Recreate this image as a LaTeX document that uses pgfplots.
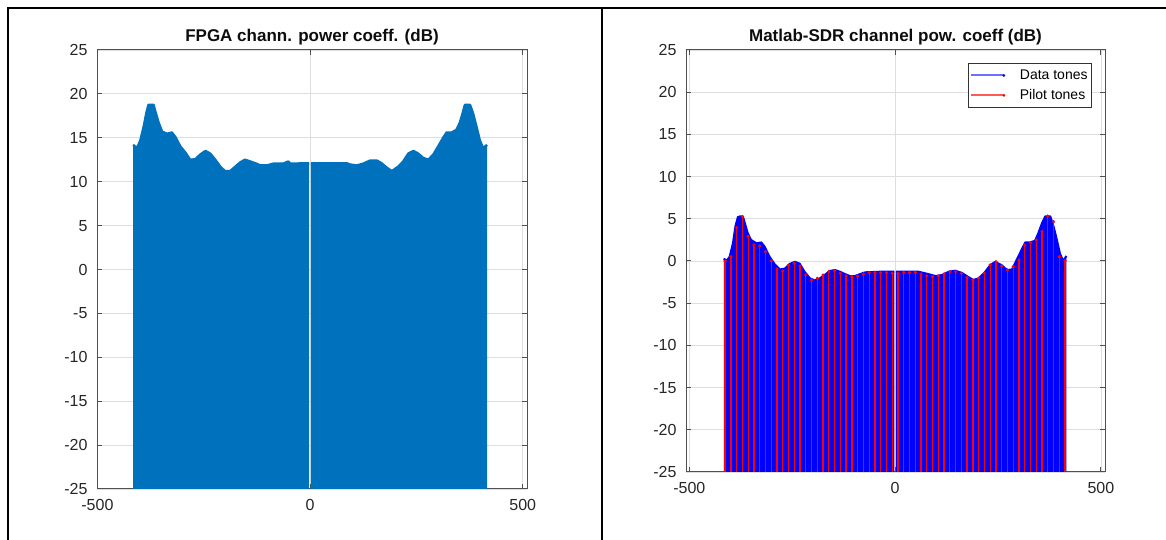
\documentclass[border=0pt]{standalone}
\usepackage{pgfplots}
\pgfplotsset{compat=1.18}
\usepackage{pgfplotstable}
\usepackage{fontspec}
\setmainfont{Liberation Sans}
\definecolor{mblue}{RGB}{0,114,189}
\definecolor{axgray}{RGB}{80,80,80}
\definecolor{lgblue}{RGB}{110,110,255}
\definecolor{lgred}{RGB}{255,90,90}

\pgfplotstableread{
x y
-416 -25
-416 14.2
-407 13.8
-399 14.7
-391 16.3
-385 17.8
-380 18.75
-368 18.75
-364 18.0
-356 16.7
-348 15.7
-336 15.45
-325 15.6
-317 15.1
-305 14.0
-293 13.3
-282 12.5
-270 12.55
-258 13.1
-246 13.5
-235 13.2
-223 12.5
-211 11.7
-200 11.2
-188 11.2
-176 11.7
-164 12.2
-153 12.5
-141 12.3
-129 12.1
-117 11.85
-102 11.85
-86 12.05
-63 12.05
-51 12.3
-47 12.05
-2 12.1
-2 -25
}\fpgaleft

\pgfplotstableread{
x y
2 -25
2 12.1
31 12.1
86 12.1
94 11.95
110 11.85
125 12.05
141 12.4
157 12.4
168 12.1
180 11.6
192 11.2
207 11.7
219 12.3
231 13.2
243 13.5
254 13.2
266 12.7
278 12.5
290 13.1
301 14.0
313 15.0
321 15.6
333 15.6
344 15.9
352 16.7
360 18.0
364 18.75
376 18.75
383 17.8
391 16.3
399 14.7
407 13.8
416 14.2
416 -25
}\fpgaright

\pgfplotstableread{
x y
-416 -25
-416 0.3
-410 0.0
-402 0.5
-394 2.1
-388 4.1
-382 5.2
-376 5.3
-370 5.3
-366 4.65
-358 3.3
-350 2.5
-337 2.1
-325 2.2
-317 1.7
-305 0.5
-293 -0.35
-280 -1.0
-268 -0.9
-256 -0.35
-244 -0.1
-232 -0.3
-220 -1.27
-207 -2.05
-195 -2.3
-183 -2.05
-171 -1.66
-159 -1.18
-146 -1.07
-134 -1.27
-122 -1.54
-110 -1.78
-98 -1.78
-85 -1.55
-73 -1.34
-37 -1.27
-2 -1.27
-2 -25
}\sdrleft

\pgfplotstableread{
x y
2 -25
2 -1.27
57 -1.27
81 -1.55
98 -1.78
114 -1.66
130 -1.27
146 -1.15
162 -1.4
178 -1.9
190 -2.25
203 -2.05
219 -1.27
231 -0.5
243 -0.1
259 -0.5
272 -1.07
284 -1.0
296 0.2
308 1.4
316 2.2
328 2.2
340 2.4
348 3.3
357 4.5
365 5.3
377 5.3
385 4.1
393 2.5
401 0.8
409 0.0
416 0.6
416 -25
}\sdrright

\pgfplotstableread{
x y
-413 0.0
-399 0.51
-385 3.95
-371 5.25
-357 2.9
-343 1.9
-329 1.78
-315 1.11
-301 0.0
-287 -0.95
-273 -1.18
-259 -0.51
-245 -0.28
-231 -0.59
-217 -1.66
-203 -2.25
-189 -2.05
-175 -1.66
-161 -1.26
-147 -1.15
-133 -1.46
-119 -1.78
-105 -1.86
-91 -1.78
-77 -1.54
-63 -1.38
-49 -1.38
-35 -1.38
-21 -1.38
-7 -1.46
7 -1.46
21 -1.38
35 -1.38
49 -1.38
63 -1.54
77 -1.78
91 -1.86
105 -1.78
119 -1.54
133 -1.26
147 -1.26
161 -1.46
175 -1.94
189 -2.25
203 -2.05
217 -1.46
231 -0.47
245 -0.08
259 -0.59
273 -1.07
287 -0.67
301 0.12
315 1.9
329 2.17
343 2.49
357 3.47
371 5.33
385 4.66
399 0.51
413 0.04
}\pilots

\pgfplotsset{
  mlab/.style={
    scale only axis,
    ymin=-25, ymax=25,
    ytick={-25,-20,-15,-10,-5,0,5,10,15,20,25},
    xtick={-500,0,500},
    grid=major,
    major grid style={black!13, line width=0.8pt},
    tick align=inside,
    major tick length=5pt,
    axis line style={axgray, line width=1pt},
    every tick/.style={axgray, line width=1pt},
    ticklabel style={font=\fontsize{16}{16}\selectfont, text=black!85},
    /pgf/number format/assume math mode=true,
    yticklabel style={xshift=-6pt},
    xticklabel style={yshift=-7pt},
    title style={font=\bfseries\fontsize{17}{17}\selectfont, text=black!95, yshift=-5pt},
  }
}

\begin{document}
\begin{tikzpicture}[x=1pt,y=1pt]
\useasboundingbox (0,0) rectangle (1166,540);
\draw[line width=2.5pt] (8,0) -- (8,532) -- (1166,532);
\draw[line width=2.5pt] (602,0) -- (602,532);

\begin{axis}[mlab,
  at={(97pt,51pt)}, anchor=south west,
  width=430pt, height=439pt,
  xmin=-501, xmax=510,
  title={FPGA chann. power coeff. (dB)}]
\addplot[fill=mblue, draw=none] table[x=x,y=y] {\fpgaleft};
\addplot[fill=mblue, draw=none] table[x=x,y=y] {\fpgaright};
\addplot[mblue, line width=2.5pt, line join=round, restrict y to domain=-24:30] table[x=x,y=y] {\fpgaleft};
\addplot[mblue, line width=2.5pt, line join=round, restrict y to domain=-24:30] table[x=x,y=y] {\fpgaright};
\end{axis}

\begin{axis}[mlab,
  at={(686pt,68pt)}, anchor=south west,
  width=419pt, height=422pt,
  xmin=-508, xmax=510,
  title={Matlab-SDR channel pow. coeff (dB)},
  legend style={at={(1,1)}, anchor=north east, xshift=-13pt, yshift=-13pt,
    draw=black!80, line width=0.8pt, font=\fontsize{14}{14}\selectfont,
    inner xsep=2pt, inner ysep=4.5pt, row sep=4.5pt, cells={anchor=west}}]
\addplot[fill=blue, draw=none, forget plot] table[x=x,y=y] {\sdrleft};
\addplot[fill=blue, draw=none, forget plot] table[x=x,y=y] {\sdrright};
\addplot[blue, line width=2pt, line join=round, restrict y to domain=-24:30, forget plot] table[x=x,y=y] {\sdrleft};
\addplot[blue, line width=2pt, line join=round, restrict y to domain=-24:30, forget plot] table[x=x,y=y] {\sdrright};
\addplot[red, only marks, mark=*, mark size=1.4pt, forget plot,
  error bars/.cd, y dir=minus, y explicit, error mark=none,
  error bar style={red, line width=1.3pt}]
  table[x=x, y=y, y error expr=\thisrow{y}+25] {\pilots};
\addlegendimage{legend image code/.code={%
    \path[draw=none, fill=none] (0pt,0pt) -- (47pt,0pt);
    \draw[draw=lgblue, line width=2pt] (0pt,0pt) -- (33pt,0pt);
    \fill[blue, draw=none] (33pt,0pt) circle (1.5pt);}}
\addlegendentry{Data tones}
\addlegendimage{legend image code/.code={%
    \path[draw=none, fill=none] (0pt,0pt) -- (47pt,0pt);
    \draw[draw=lgred, line width=2pt] (0pt,0pt) -- (33pt,0pt);
    \fill[red, draw=none] (33pt,0pt) circle (1.5pt);}}
\addlegendentry{Pilot tones}
\end{axis}
\end{tikzpicture}
\end{document}
